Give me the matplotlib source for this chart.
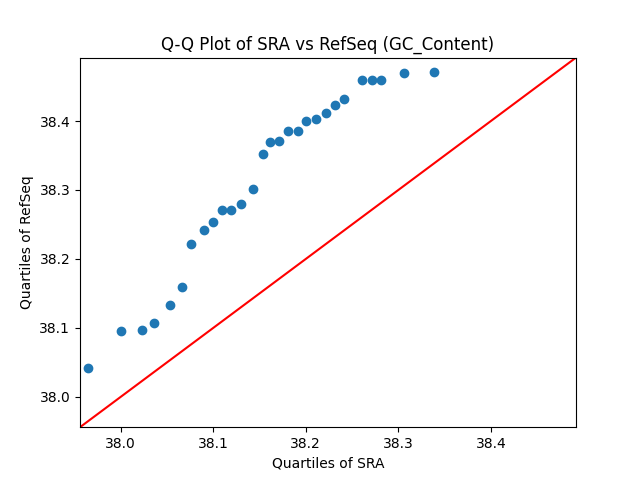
import matplotlib
matplotlib.use("Agg")
import matplotlib.pyplot as plt
import numpy as np

sra = [37.9647, 38.000, 38.0226, 38.036, 38.0528, 38.066, 38.0755, 38.0898,
       38.0995, 38.1092, 38.1197, 38.1297, 38.1434, 38.1542, 38.161, 38.1707,
       38.1804, 38.1912, 38.1998, 38.2106, 38.2213, 38.2315, 38.2418, 38.2612,
       38.2713, 38.2817, 38.3062, 38.3389]
refseq = [38.0416, 38.0957, 38.097, 38.107, 38.1333, 38.159, 38.2217, 38.2416,
          38.2536, 38.2705, 38.2705, 38.2797, 38.301, 38.3517, 38.3696, 38.371,
          38.386, 38.386, 38.400, 38.403, 38.4116, 38.4236, 38.4314, 38.459,
          38.459, 38.459, 38.4696, 38.4706]
lims = [37.956, 38.492]

fig, ax = plt.subplots(figsize=(6.4, 4.8), dpi=100)
ax.scatter(sra, refseq, color="#1f77b4")
ax.plot(lims, lims, color="red")
ax.set_xlim(lims)
ax.set_ylim(lims)
ax.set_xticks([38.0, 38.1, 38.2, 38.3, 38.4])
ax.set_yticks([38.0, 38.1, 38.2, 38.3, 38.4])
ax.set_title("Q-Q Plot of SRA vs RefSeq (GC_Content)")
ax.set_xlabel("Quartiles of SRA")
ax.set_ylabel("Quartiles of RefSeq")
fig.savefig("out.png", dpi=100)
